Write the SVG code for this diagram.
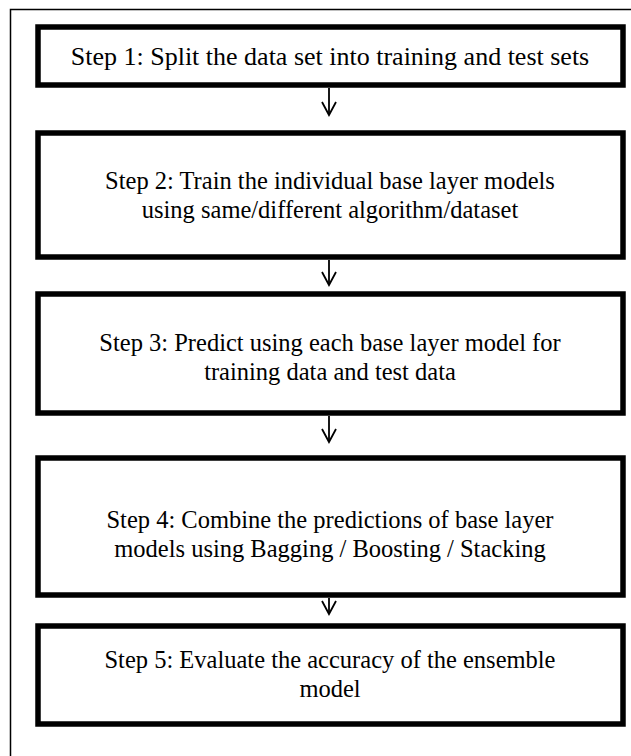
<svg xmlns="http://www.w3.org/2000/svg" width="631" height="756" viewBox="0 0 631 756">
  <style>
    .frame { fill: none; stroke: #000; stroke-width: 1.5; }
    .box { fill: #fff; stroke: #000; stroke-width: 5.5; }
    .lbl { font-family: "Liberation Serif", "Times New Roman", serif; font-size: 24.5px; fill: #000; text-anchor: middle; }
    .big { font-size: 26px; }
    .conn { fill: none; stroke: #000; stroke-width: 1.8; }
  </style>
  <defs>
    <marker id="vhead" markerWidth="16" markerHeight="18" refX="14" refY="8" orient="auto" markerUnits="userSpaceOnUse">
      <path d="M1,1 L14,8 L1,15" fill="none" stroke="#000" stroke-width="1.8"/>
    </marker>
  </defs>
  <rect width="631" height="756" fill="#fff"/>
  <!-- outer page frame, running past the right and bottom edges -->
  <path class="frame" d="M10.5,760 L10.5,9.5 L640,9.5"/>

  <g id="connectors">
    <line class="conn" x1="329" y1="88" x2="329" y2="115" marker-end="url(#vhead)"/>
    <line class="conn" x1="329" y1="260" x2="329" y2="285" marker-end="url(#vhead)"/>
    <line class="conn" x1="329" y1="416" x2="329" y2="442" marker-end="url(#vhead)"/>
    <line class="conn" x1="329" y1="598" x2="329" y2="614" marker-end="url(#vhead)"/>
  </g>

  <g id="step1">
    <rect class="box" x="38" y="27" width="585" height="58"/>
    <text class="lbl big" x="330" y="65">Step 1: Split the data set into training and test sets</text>
  </g>
  <g id="step2">
    <rect class="box" x="38" y="133" width="585" height="124"/>
    <text class="lbl" x="330" y="189">Step 2: Train the individual base layer models</text>
    <text class="lbl" x="330" y="218">using same/different algorithm/dataset</text>
  </g>
  <g id="step3">
    <rect class="box" x="38" y="294" width="585" height="119"/>
    <text class="lbl" x="330" y="351">Step 3: Predict using each base layer model for</text>
    <text class="lbl" x="330" y="380">training data and test data</text>
  </g>
  <g id="step4">
    <rect class="box" x="38" y="458" width="585" height="137"/>
    <text class="lbl" x="330" y="528">Step 4: Combine the predictions of base layer</text>
    <text class="lbl" x="330" y="557">models using Bagging / Boosting / Stacking</text>
  </g>
  <g id="step5">
    <rect class="box" x="38" y="626" width="585" height="98"/>
    <text class="lbl" x="330" y="668">Step 5: Evaluate the accuracy of the ensemble</text>
    <text class="lbl" x="330" y="697">model</text>
  </g>
</svg>
